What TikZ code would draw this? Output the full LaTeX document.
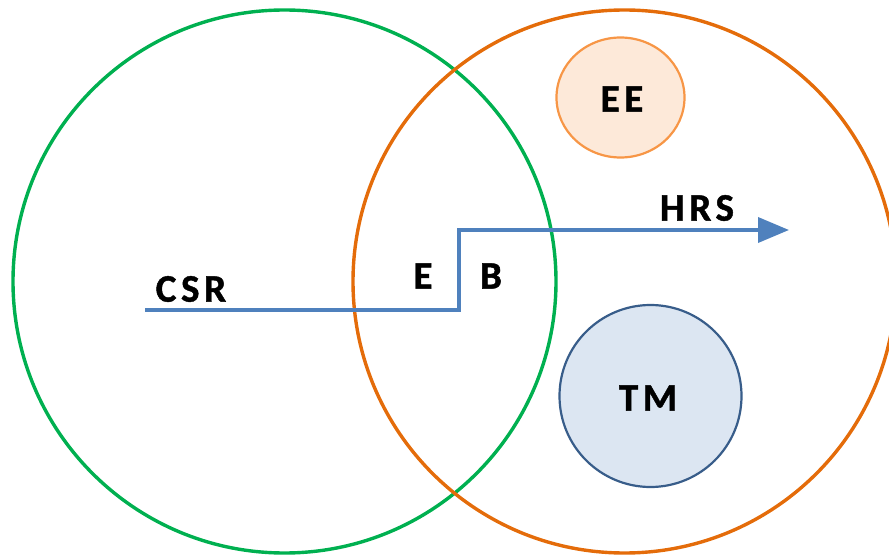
\documentclass[tikz,border=0pt]{standalone}
\usepackage{fontspec}
\setmainfont{Carlito}
\newfontfamily\labelfont[LetterSpace=12, BoldFeatures={FakeBold=1.2}]{Carlito}
\usetikzlibrary{arrows.meta,shapes.geometric}
\definecolor{ringgreen}{RGB}{0,176,80}
\definecolor{ringorange}{RGB}{228,108,10}
\definecolor{eeline}{RGB}{247,150,70}
\definecolor{eefill}{RGB}{253,233,217}
\definecolor{tmline}{RGB}{56,93,138}
\definecolor{tmfill}{RGB}{220,230,242}
\definecolor{pathblue}{RGB}{79,129,189}
\tikzset{
  ring/.style={circle, draw, line width=3.4pt, minimum size=543pt, inner sep=0pt},
  blob/.style={draw, line width=2.2pt, inner sep=0pt},
  lbl/.style={font=\labelfont\bfseries\fontsize{39}{39}\selectfont, inner sep=0pt},
  route/.style={pathblue, line width=3.7pt, line join=miter},
}
\begin{document}
\begin{tikzpicture}[x=1pt, y=-1pt]
  \useasboundingbox (0,0) rectangle (889,556);
  \begin{scope}
    \clip (0,0) rectangle (889,556);
    % two overlapping domains
    \node[ring, ringgreen] (left) at (284.5,281.5) {};
    \node[ring, ringorange] (right) at (624.5,281.5) {};
    % inner bubbles
    \node[blob, ellipse, eeline, fill=eefill, minimum width=128pt, minimum height=120pt] (ee) at (620.5,97.5) {};
    \node[blob, circle, tmline, fill=tmfill, minimum size=182pt] (tm) at (650.5,396) {};
  \end{scope}
  \node[lbl] (eetext) at (622,99) {EE};
  \node[lbl] (tmtext) at (648,398) {TM};
  % stepped route
  \coordinate (start) at (145,310);
  \coordinate (stepbot) at (459,310);
  \coordinate (steptop) at (459,230);
  \coordinate (tip) at (789,230);
  \draw[route, -{Triangle[length=31pt, width=25pt]}] (start) -- (stepbot) -- (steptop) -- (tip);
  \node[lbl] (csr) at (191,289) {CSR};
  \node[lbl] (e) at (423,276) {E};
  \node[lbl] (b) at (491,276) {B};
  \node[lbl] (hrs) at (697,208) {HRS};
\end{tikzpicture}
\end{document}
